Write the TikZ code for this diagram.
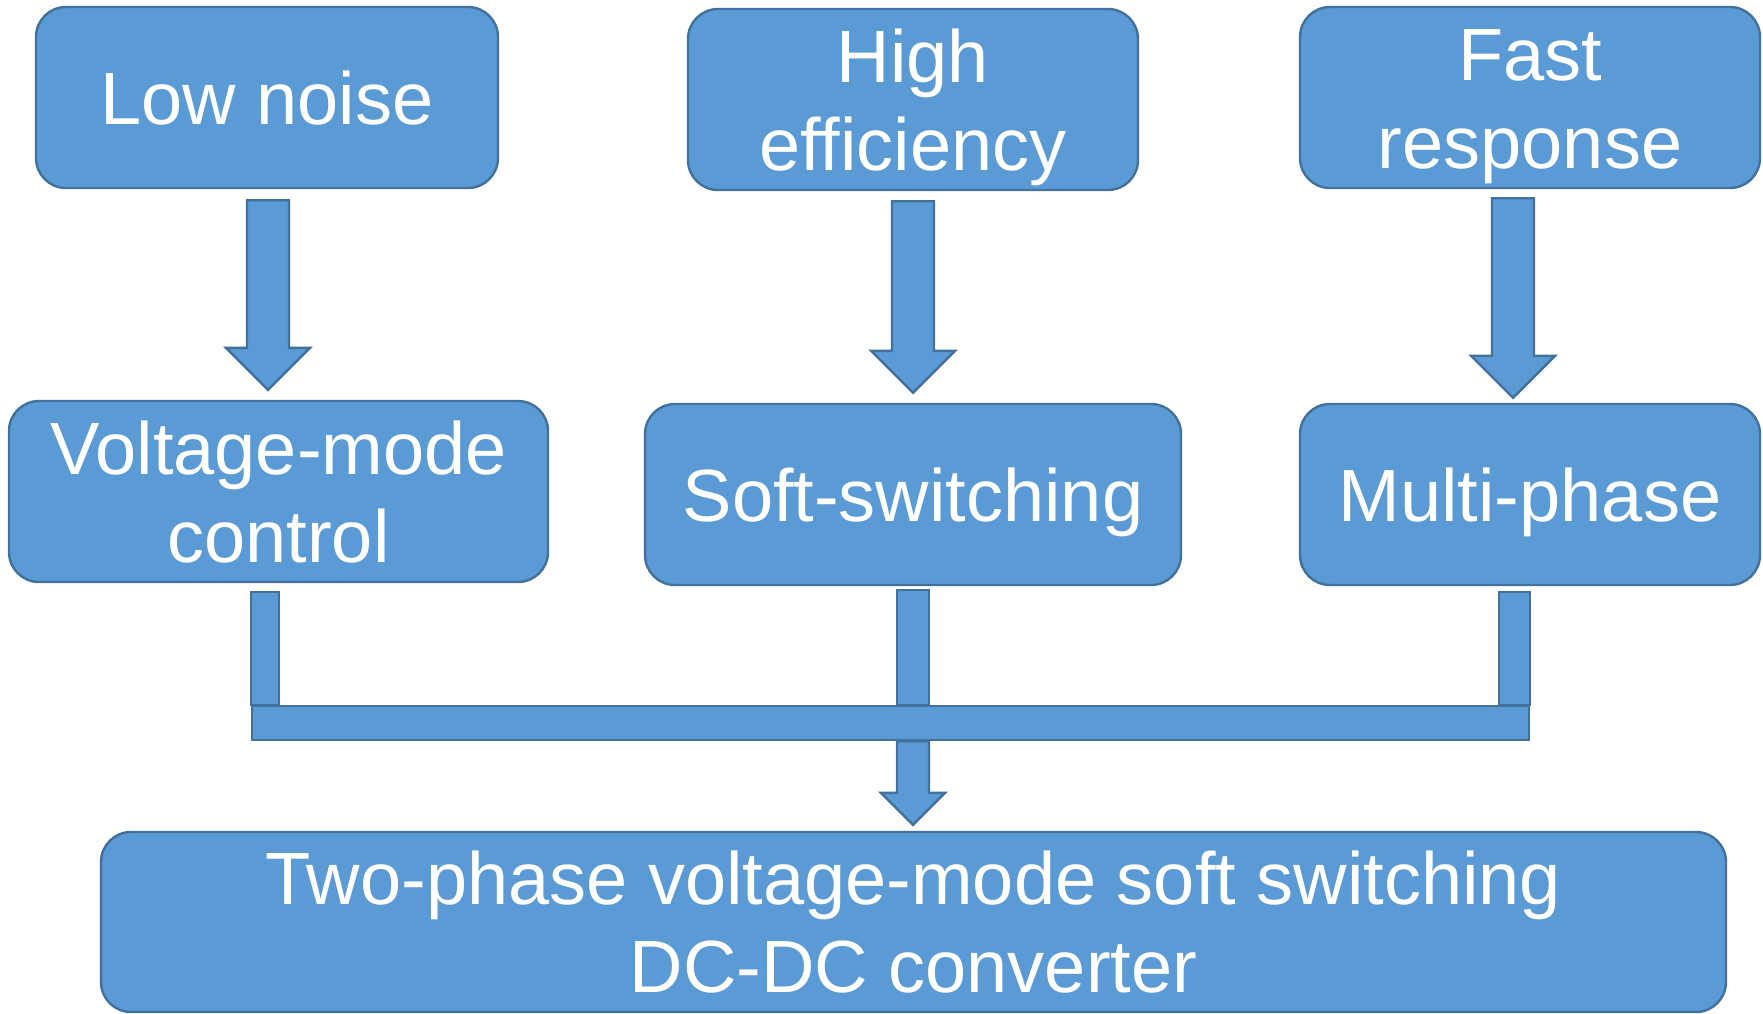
\documentclass[tikz,border=0pt]{standalone}
\usepackage{fontspec}
\setmainfont{Liberation Sans}
\usetikzlibrary{calc}
\definecolor{boxblue}{HTML}{5B9BD5}
\definecolor{edgeblue}{HTML}{41719C}

\tikzset{
  block/.style={draw=edgeblue, fill=boxblue, line width=1.2pt, rounded corners=15pt,
    text=white, align=center, inner sep=0pt, minimum height=90.5pt,
    text height=26.5pt, text depth=0pt, font=\fontsize{37pt}{44pt}\selectfont},
  twoline/.style={text height=70.5pt},
  blockarrow/.style={draw=edgeblue, fill=boxblue, line width=1.2pt},
  busbar/.style={draw=edgeblue, fill=boxblue, line width=1.2pt, inner sep=0pt,
    minimum width=638.5pt, minimum height=17pt}
}

% block arrow pointing down: top, tip, shaft half width, head half width, head length
\newcommand{\blockdown}[5]{%
  \draw[blockarrow] let \p1=(#1), \p2=(#2) in
    (\x1-#3,\y1) -- (\x1+#3,\y1) -- (\x1+#3,\y2+#5) -- (\x1+#4,\y2+#5)
    -- (\x1,\y2) -- (\x1-#4,\y2+#5) -- (\x1-#3,\y2+#5) -- cycle;}

\begin{document}
\begin{tikzpicture}[x=0.5pt,y=-0.5pt]
\useasboundingbox (0,0) rectangle (1763,1013);
%% boxes
\node[block, minimum width=231pt] (low) at (267,97.5) {Low noise};
\node[block, twoline, minimum width=225pt] (high) at (913,99.5) {High\\efficiency};
\node[block, twoline, minimum width=230pt] (fast) at (1530,97.5) {Fast\\response};

\node[block, twoline, minimum width=269.5pt] (volt) at (278.5,491.5) {Voltage-mode\\control};
\node[block, minimum width=268pt] (soft) at (913,494.5) {Soft-switching};
\node[block, minimum width=230pt] (multi) at (1530,494.5) {Multi-phase};

\node[block, twoline, minimum width=812.5pt, minimum height=90pt] (conv) at (913.5,922)
  {Two-phase voltage-mode soft switching\\DC-DC converter};

%% arrows
\blockdown{$(low.south)+(1,11)$}{$(low.south |- volt.north)+(1,-10)$}{10.5pt}{21pt}{21pt}
\blockdown{$(high.south)+(0,10)$}{$(high.south |- soft.north)+(0,-10)$}{10.5pt}{21pt}{21pt}
\blockdown{$(fast.south)+(-17,9)$}{$(fast.south |- multi.north)+(-17,-5)$}{10.5pt}{21pt}{21pt}

%% bus
\node[busbar] (bus) at (890.5,723) {};
\draw[blockarrow] ($(volt.south -| bus.west)+(0,9)$) rectangle ($(bus.north west)+(28,0)$);
\draw[blockarrow] ($(soft.south)+(-16,4)$) rectangle ($(soft.south |- bus.north)+(16,0)$);
\draw[blockarrow] ($(multi.south -| bus.east)+(-31,6)$) rectangle (bus.north east);

\blockdown{soft.south |- bus.south}{$(soft.south |- conv.north)+(0,-6)$}{8pt}{16pt}{16pt}
\end{tikzpicture}
\end{document}
